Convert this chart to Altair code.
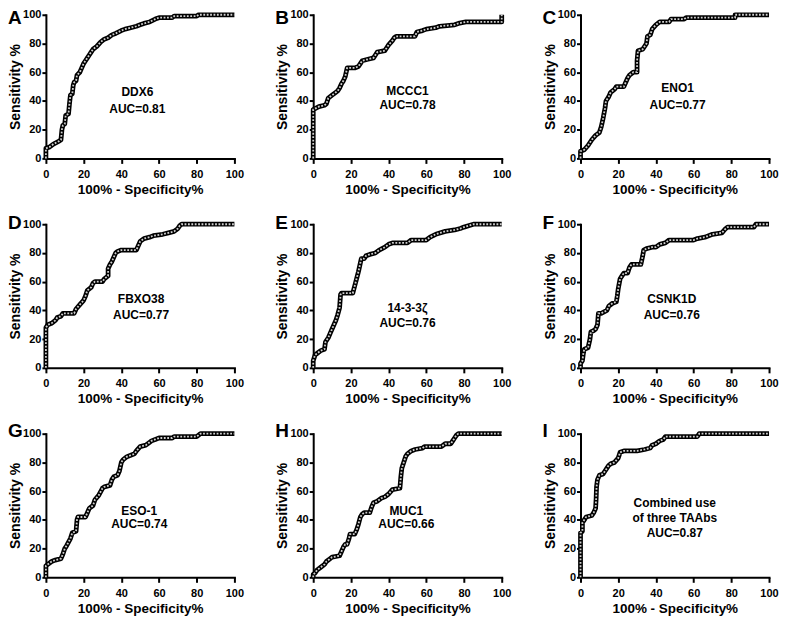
import altair as alt
import pandas as pd

FONT = "Liberation Sans"

letters = ["A", "B", "C", "D", "E", "F", "G", "H", "I"]
annot_lines = [
    ["DDX6", "AUC=0.81"],
    ["MCCC1", "AUC=0.78"],
    ["ENO1", "AUC=0.77"],
    ["FBXO38", "AUC=0.77"],
    ["14-3-3ζ", "AUC=0.76"],
    ["CSNK1D", "AUC=0.76"],
    ["ESO-1", "AUC=0.74"],
    ["MUC1", "AUC=0.66"],
    ["Combined use", "of three TAAbs", "AUC=0.87"],
]
annot_x = [48.5, 50, 51.5, 50.5, 50, 48.4, 49.5, 49.4, 50]
annot_top = [46.5, 47, 49, 48, 41.5, 48, 46, 46, 52]
annot_step = [12, 10, 12, 11, 10.5, 11, 9, 9, 10.5]

ddx6_x = [0, 0, 2, 4, 7, 8, 8.5, 9, 10, 10.5, 12, 12.5, 13, 14, 14.5, 15, 16, 16.5, 18, 19, 20, 21, 22, 23, 24, 25,
          27, 29, 31, 33, 35, 37, 40, 42, 45, 48, 50, 52, 55, 58, 60, 67, 68, 80, 81, 100]
ddx6_y = [0, 7, 8, 10, 12, 13, 20, 23, 24, 30, 31, 38, 44, 45, 51, 53, 54, 58, 60, 63, 66, 68, 70, 72, 74, 76,
          78, 81, 83, 84, 86, 87, 89, 90, 91, 92, 93, 94, 95, 97, 98, 98, 99, 99, 100, 100]

mccc1_x = [0, 0, 3, 6, 7, 8, 10, 12, 13, 14, 15, 16, 17, 18, 22, 24, 25, 26, 29, 32, 33, 34, 38, 39, 40, 42, 43,
           44, 54, 55, 58, 60, 65, 67, 75, 77, 81, 100, 100]
mccc1_y = [0, 34, 36, 37, 38, 42, 44, 46, 47, 49, 52, 54, 57, 63, 63, 64, 66, 68, 69, 70, 72, 74, 75, 77, 79, 82, 84,
           85, 85, 88, 89, 90, 91, 92, 93, 94, 95, 95, 100]

eno1_x = [0, 0, 2, 4, 6, 8, 10, 11, 12, 13, 13.5, 15, 16, 18, 19, 23, 24, 25, 26, 28, 30, 30, 30.5, 33, 35, 35.5,
          37, 38, 40, 42, 47, 48, 55, 56, 82, 82, 100]
eno1_y = [0, 5, 6, 9, 13, 16, 18, 22, 28, 35, 40, 43, 46, 48, 50, 50, 53, 56, 58, 60, 60, 68, 75, 76, 80, 85,
          86, 90, 93, 95, 95, 97, 97, 98, 98, 100, 100]

fbxo38_x = [0, 0, 1, 3, 5, 6, 8, 9, 15, 16, 18, 20, 21, 22, 24, 25, 26, 30, 31, 33, 33, 34, 35, 36, 37, 38, 40,
            48, 49, 50, 52, 55, 57, 62, 65, 68, 70, 71, 72, 100]
fbxo38_y = [0, 28, 30, 31, 33, 35, 36, 38, 38, 41, 44, 47, 50, 54, 56, 59, 60, 60, 62, 64, 69, 72, 74, 77, 80, 81, 82,
            82, 85, 88, 90, 91, 92, 93, 94, 95, 97, 99, 100, 100]

ywhaz_x = [0, 0, 1, 2, 4, 6, 6.5, 8, 9, 10, 11, 12, 13, 14, 14.5, 15, 21, 22, 23, 24, 25, 25.5, 27, 28, 30, 33,
           35, 38, 40, 42, 50, 52, 60, 62, 65, 70, 75, 78, 80, 85, 100]
ywhaz_y = [0, 5, 9, 10, 12, 13, 18, 21, 24, 27, 30, 33, 37, 42, 51, 52, 52, 57, 62, 67, 73, 76, 76, 78, 79, 80,
           82, 84, 86, 87, 87, 89, 89, 91, 93, 95, 96, 97, 98, 100, 100]

csnk1d_x = [0, 0, 1, 1.5, 2, 4, 5, 5.5, 7, 8, 9, 9.5, 11, 14, 15, 17, 19, 19.5, 20, 21, 22, 23, 25, 26, 27, 32,
            33, 33.5, 35, 38, 40, 42, 45, 47, 60, 62, 66, 68, 70, 75, 77, 78, 92, 93, 100]
csnk1d_y = [0, 3, 5, 10, 13, 14, 20, 25, 26, 27, 30, 38, 38, 40, 43, 45, 46, 50, 55, 62, 64, 66, 66, 70, 72, 72,
            78, 82, 83, 84, 84, 86, 87, 89, 89, 90, 91, 92, 93, 94, 97, 98, 98, 100, 100]

eso1_x = [0, 0, 1, 3, 5, 8, 9, 10, 11, 13, 14, 16, 16.5, 17, 21, 22, 23, 25, 26, 28, 30, 31, 34, 35, 36, 38, 39,
          40, 41, 43, 45, 47, 48, 50, 53, 55, 56, 58, 60, 67, 68, 80, 82, 100]
eso1_y = [0, 8, 9, 11, 12, 13, 16, 20, 22, 27, 31, 32, 40, 42, 42, 45, 48, 50, 54, 57, 62, 63, 64, 68, 70, 71, 74,
          80, 82, 84, 85, 86, 88, 91, 92, 94, 95, 96, 97, 97, 98, 98, 100, 100]

muc1_x = [0, 0, 1, 2, 4, 6, 7, 9, 10, 14, 15, 16, 17, 18, 19, 19.5, 22, 23, 24, 25, 26, 27, 30, 31, 32, 34, 36,
          38, 40, 42, 46, 46.5, 47, 48, 49, 50, 52, 54, 58, 59, 68, 70, 73, 74, 75, 76, 77, 100]
muc1_y = [0, 2, 3, 5, 7, 9, 11, 13, 14, 15, 18, 21, 23, 23, 27, 30, 30, 33, 37, 42, 44, 45, 45, 49, 52, 53, 55,
          56, 58, 61, 62, 70, 76, 80, 84, 86, 88, 89, 90, 91, 91, 93, 93, 95, 97, 99, 100, 100]

combined_x = [0, 0, 1, 1, 2, 3, 6, 7, 8, 8.3, 8.5, 9, 10, 12, 13, 14, 15, 16, 18, 20, 20.5, 21, 23, 30, 34, 37,
              38, 40, 42, 44, 45, 62, 63, 100]
combined_y = [0, 31, 32, 38, 40, 42, 43, 45, 48, 55, 63, 68, 71, 72, 74, 76, 78, 79, 80, 83, 85, 87, 88, 88, 89, 90,
              92, 93, 95, 96, 98, 98, 100, 100]

curves_x = [ddx6_x, mccc1_x, eno1_x, fbxo38_x, ywhaz_x, csnk1d_x, eso1_x, muc1_x, combined_x]
curves_y = [ddx6_y, mccc1_y, eno1_y, fbxo38_y, ywhaz_y, csnk1d_y, eso1_y, muc1_y, combined_y]

tick_values = [0, 20, 40, 60, 80, 100]
x_title = "100% - Specificity%"
y_title = "Sensitivity %"

PW, PH = 189, 144
letter_dy = [-5, -9, -11]

x_axis = alt.Axis(
    values=tick_values, title=x_title, grid=False,
    domainColor="black", domainWidth=2, domainCap="square",
    tickColor="black", tickWidth=2, tickSize=5,
    labelFont=FONT, labelFontSize=11, labelFontWeight="bold", labelColor="black",
    labelPadding=5, labelFlush=False,
    titleFont=FONT, titleFontSize=13.5, titleFontWeight="bold", titleColor="black",
    titlePadding=3,
)
y_axis = alt.Axis(
    values=tick_values, title=y_title, grid=False,
    domainColor="black", domainWidth=2, domainCap="square",
    tickColor="black", tickWidth=2, tickSize=4,
    labelFont=FONT, labelFontSize=11, labelFontWeight="bold", labelColor="black",
    labelPadding=1, labelFlush=False,
    titleFont=FONT, titleFontSize=14, titleFontWeight="bold", titleColor="black",
    titlePadding=0,
)
x_scale = alt.Scale(domain=[0, 100], nice=False, zero=False)
y_scale = alt.Scale(domain=[0, 100], nice=False, zero=False)


def panel(i):
    df = pd.DataFrame({"fpr": curves_x[i], "tpr": curves_y[i], "order": list(range(len(curves_x[i])))})
    xenc = alt.X("fpr:Q", scale=x_scale, axis=x_axis)
    yenc = alt.Y("tpr:Q", scale=y_scale, axis=y_axis)
    base = alt.Chart(df)
    line = base.mark_line(color="black", strokeWidth=4.8, strokeJoin="round").encode(
        x=xenc, y=yenc, order="order:Q")
    dots = base.mark_line(color="#d0d0d0", strokeWidth=1.8, strokeDash=[1.8, 1.6]).encode(
        x=xenc, y=yenc, order="order:Q")
    lines = annot_lines[i]
    tdf = pd.DataFrame({
        "t": lines,
        "fpr": [annot_x[i]] * len(lines),
        "tpr": [annot_top[i] - k * annot_step[i] for k in range(len(lines))],
    })
    txt = alt.Chart(tdf).mark_text(font=FONT, fontSize=12, fontWeight="bold", color="black").encode(
        x=xenc, y=yenc, text="t:N")
    ldf = pd.DataFrame({"t": [letters[i]]})
    letter = alt.Chart(ldf).mark_text(font=FONT, fontSize=19, fontWeight="bold", color="black",
                                      align="left", baseline="top").encode(
        x=alt.value(-38), y=alt.value(letter_dy[i // 3] - 1), text="t:N")
    return alt.layer(line, dots, txt, letter).properties(width=PW, height=PH)


chart = alt.concat(
    *[panel(i) for i in range(9)],
    columns=3,
    spacing={"row": 66, "column": 79},
    bounds="flush",
).properties(padding=0).configure_view(stroke=None)

chart.save("out.html", embed_options={"renderer": "svg", "actions": False})
